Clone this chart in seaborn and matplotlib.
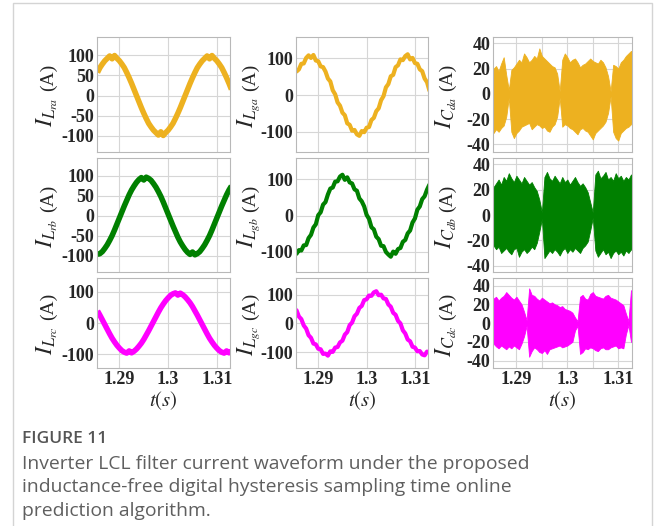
import numpy as np
import matplotlib
matplotlib.use("Agg")
import matplotlib.pyplot as plt
import seaborn as sns
from matplotlib.patches import Rectangle

# ---------------- data ----------------
# sample times (s), one sample every 0.5 ms across the visible window
time = np.round(1.2855 + 0.0005 * np.arange(56), 4)

# inverter-side inductor currents (A)
i_La = [57, 69, 78, 86, 92, 98, 91, 99, 92, 86, 78, 69, 57, 44, 30, 15, 0, -15, -30, -44,
        -57, -69, -78, -86, -92, -98, -90, -99, -92, -86, -78, -69, -57, -44, -30, -15, 0, 15, 30, 44,
        57, 69, 78, 86, 92, 98, 91, 99, 92, 86, 78, 69, 57, 44, 30, 15]
i_Lb = [-96, -94, -89, -81, -72, -61, -49, -35, -20, -5, 10, 25, 39, 53, 65, 75, 84, 91, 96, 90,
        97, 94, 89, 81, 72, 61, 49, 35, 20, 5, -10, -25, -39, -53, -65, -75, -84, -91, -96, -90,
        -97, -94, -89, -81, -72, -61, -49, -35, -20, -5, 10, 25, 39, 53, 65, 75]
i_Lc = [39, 25, 10, -5, -20, -35, -49, -61, -72, -81, -89, -94, -97, -90, -96, -91, -84, -75, -65, -53,
        -39, -25, -10, 5, 20, 35, 49, 61, 72, 81, 89, 94, 97, 90, 96, 91, 84, 75, 65, 53,
        39, 25, 10, -5, -20, -35, -49, -61, -72, -81, -89, -94, -97, -90, -96, -91]

# grid-side inductor currents (A)
i_ga = [64, 70, 85, 86, 101, 108, 101, 109, 94, 92, 78, 76, 64, 45, 37, 13, 2, -20, -29, -48,
        -55, -77, -81, -97, -95, -107, -111, -98, -101, -89, -87, -68, -62, -44, -36, -14, -3, 21, 30, 51,
        55, 76, 81, 97, 95, 106, 111, 97, 101, 87, 85, 70, 65, 45, 35, 12]
i_gb = [-105, -95, -96, -82, -81, -62, -53, -33, -24, 1, 9, 30, 37, 58, 74, 77, 93, 94, 107, 112,
        98, 105, 91, 88, 72, 68, 47, 39, 25, 2, -9, -32, -38, -58, -65, -83, -84, -100, -107, -113,
        -99, -105, -92, -89, -72, -67, -49, -41, -19, -8, 16, 25, 45, 53, 71, 85]
i_gc = [46, 24, 15, -7, -18, -41, -50, -70, -73, -88, -90, -106, -105, -112, -97, -99, -84, -82, -66, -60,
        -39, -30, -6, 3, 25, 34, 54, 61, 81, 84, 97, 96, 108, 112, 98, 100, 87, 85, 66, 58,
        37, 30, 9, 0, -24, -35, -56, -62, -81, -84, -97, -96, -108, -111, -98, -100]

# filter-capacitor currents (A): upper / lower envelope of the switching ripple
i_Ca_up = [20, 22, 18, 24, 29, 15, 3, 19, 21, 24, 27, 25, 32, 29, 25, 27, 30, 28, 36, 30,
           28, 26, 24, 22, 21, 16, 2, 27, 32, 29, 25, 27, 28, 25, 21, 23, 24, 26, 28, 26,
           25, 24, 27, 25, 21, 14, 2, 23, 22, 20, 25, 27, 30, 32, 34, 33]
i_Ca_lo = [-31, -28, -30, -27, -25, -18, -3, -30, -35, -31, -29, -26, -25, -24, -23, -28, -26, -24, -25, -27,
           -26, -29, -30, -26, -24, -18, -3, -26, -24, -25, -27, -28, -30, -32, -28, -27, -29, -30, -33, -36,
           -31, -29, -27, -25, -22, -15, -2, -30, -35, -37, -31, -29, -27, -26, -24, -22]
i_Cb_up = [22, 25, 28, 24, 30, 27, 33, 29, 26, 31, 28, 25, 30, 27, 24, 26, 22, 19, 12, 2,
           30, 34, 29, 27, 31, 28, 25, 30, 26, 28, 24, 27, 30, 26, 23, 25, 22, 18, 10, 2,
           32, 35, 29, 31, 34, 28, 30, 27, 33, 29, 31, 27, 30, 28, 32, 29]
i_Cb_lo = [-24, -27, -25, -30, -28, -26, -29, -31, -27, -26, -33, -29, -27, -30, -28, -25, -27, -22, -13, -3,
           -34, -31, -28, -30, -27, -29, -32, -28, -26, -30, -27, -29, -26, -28, -30, -26, -24, -21, -12, -2,
           -28, -33, -30, -27, -31, -29, -34, -30, -28, -31, -29, -32, -28, -30, -27, -29]
i_Cc_up = [26, 28, 24, 27, 29, 33, 30, 27, 25, 28, 24, 20, 12, 3, 37, 30, 29, 26, 24, 27,
           25, 23, 21, 22, 20, 19, 17, 18, 15, 14, 13, 11, 6, 2, 28, 30, 26, 25, 31, 33,
           29, 28, 27, 26, 29, 30, 27, 26, 25, 23, 21, 19, 10, 2, 35, 33]
i_Cc_lo = [-22, -25, -27, -24, -26, -28, -25, -27, -24, -26, -28, -22, -14, -3, -36, -30, -26, -28, -31, -32,
           -29, -33, -28, -27, -26, -25, -24, -26, -25, -24, -22, -20, -8, -3, -33, -31, -27, -28, -26, -27,
           -29, -30, -27, -26, -28, -28, -26, -25, -24, -27, -26, -27, -12, -2, -20, -21]

x_ticks = [1.29, 1.30, 1.31]
x_ticklabels = ["1.29", "1.3", "1.31"]
x_minor = [1.295, 1.305]

y_labels = [[r"$I_{L_{ra}}$", r"$I_{L_{ga}}$", r"$I_{C_{da}}$"],
            [r"$I_{L_{rb}}$", r"$I_{L_{gb}}$", r"$I_{C_{db}}$"],
            [r"$I_{L_{rc}}$", r"$I_{L_{gc}}$", r"$I_{C_{dc}}$"]]
caption_title = "FIGURE 11"
caption_lines = ["Inverter LCL filter current waveform under the proposed",
                 "inductance-free digital hysteresis sampling time online",
                 "prediction algorithm."]

# ---------------- style ----------------
sns.set_theme(style="white")
plt.rcParams["font.family"] = ["Liberation Serif", "DejaVu Serif"]
plt.rcParams["mathtext.fontset"] = "stix"

colors = ["#EDB120", "#008000", "#FF00FF"]
W, H = 658, 526
fig = plt.figure(figsize=(W / 100, H / 100), dpi=100)
fig.patch.set_facecolor("white")

cols_px = [(97, 230), (296, 428), (493, 632)]
rows_px = [(37, 152), (158, 272), (278, 368)]

ylims = [[(-140, 145), (-155, 158), (-46, 45)],
         [(-140, 145), (-155, 158), (-45, 45)],
         [(-145, 145), (-155, 158), (-48, 48)]]
yticks = [[[-100, -50, 0, 50, 100], [-100, 0, 100], [-40, -20, 0, 20, 40]],
          [[-100, -50, 0, 50, 100], [-100, 0, 100], [-40, -20, 0, 20, 40]],
          [[-100, 0, 100], [-100, 0, 100], [-40, -20, 0, 20, 40]]]
label_dx = [-50, -47, -47]

L_series = [i_La, i_Lb, i_Lc]
g_series = [i_ga, i_gb, i_gc]
C_up = [i_Ca_up, i_Cb_up, i_Cc_up]
C_lo = [i_Ca_lo, i_Cb_lo, i_Cc_lo]

tick_font = dict(family="Liberation Serif", weight="bold", size=13)

for r in range(3):
    for c in range(3):
        x0, x1 = cols_px[c]
        y0, y1 = rows_px[r]
        ax = fig.add_axes([x0 / W, 1 - y1 / H, (x1 - x0) / W, (y1 - y0) / H])
        col = colors[r]
        if c == 0:
            sns.lineplot(x=time, y=L_series[r], ax=ax, color=col, linewidth=4.0,
                         solid_capstyle="butt")
        elif c == 1:
            sns.lineplot(x=time, y=g_series[r], ax=ax, color=col, linewidth=3.0)
        else:
            ax.fill_between(time, C_lo[r], C_up[r], color=col, linewidth=0.6,
                            edgecolor=col)
        ax.set_xlim(1.2854, 1.3127)
        ax.set_ylim(*ylims[r][c])
        ax.set_xticks(x_ticks)
        if c == 2:
            ax.set_xticks(x_minor, minor=True)
            ax.grid(True, which="minor", axis="x", color="#d6d6d6", linewidth=0.8)
        ax.set_yticks(yticks[r][c])
        ax.set_yticklabels([str(v) for v in yticks[r][c]], fontdict=tick_font)
        if r == 2:
            ax.set_xticklabels(x_ticklabels, fontdict=tick_font)
            ax.set_xlabel(r"$t(s)$", fontsize=15, labelpad=1)
        else:
            ax.set_xticklabels([])
        ax.set_ylabel("")
        ax.tick_params(axis="both", which="both", length=0, pad=2)
        ax.grid(True, which="major", color="#d6d6d6", linewidth=0.8)
        for s in ax.spines.values():
            s.set_color("#b8b8b8")
            s.set_linewidth(0.8)
        ax.set_facecolor("white")
        # y label: large italic symbol plus unit
        ax.annotate(y_labels[r][c], xy=(0, 0.5), xycoords="axes fraction",
                    xytext=(label_dx[c], -18), textcoords="offset pixels",
                    rotation=90, ha="center", va="center", fontsize=17)
        ax.annotate("(A)", xy=(0, 0.5), xycoords="axes fraction",
                    xytext=(label_dx[c] + 1, 17), textcoords="offset pixels",
                    rotation=90, ha="center", va="center", fontsize=14,
                    family="Liberation Serif")

# card border
fig.add_artist(Rectangle((13 / W, -0.05), (652 - 13) / W, 1.05 - 3 / H,
                         transform=fig.transFigure, fill=False,
                         edgecolor="#d4d4d4", linewidth=1.0))

# caption
fig.text(22 / W, 1 - 439 / H, caption_title, ha="left", va="center",
         fontsize=12.5, color="#555555", family="Open Sans", weight="semibold")
for k, line in enumerate(caption_lines):
    fig.text(22 / W, 1 - (464 + 23.5 * k) / H, line, ha="left", va="center",
             fontsize=13.9, color="#5f5f5f", family="Open Sans")

fig.savefig("out.png", dpi=100, facecolor="white")
